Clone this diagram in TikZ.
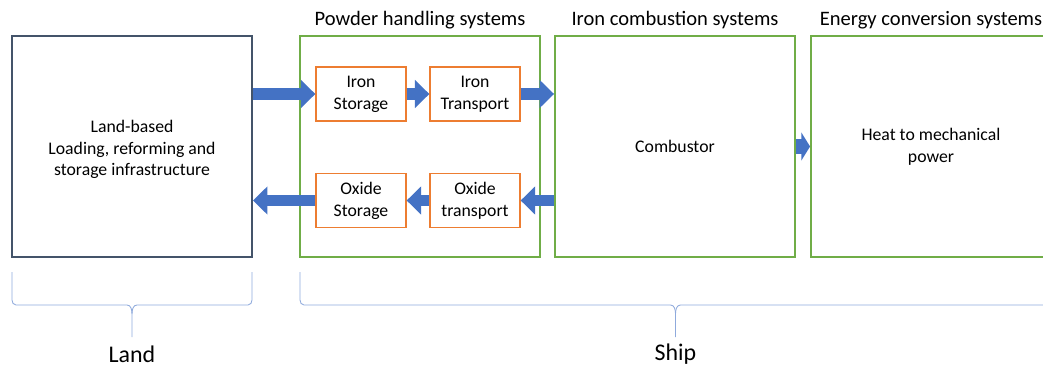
\documentclass[tikz,border=0pt]{standalone}
\usepackage{fontspec}
\setmainfont{Carlito}
\usetikzlibrary{arrows.meta,calc}
\definecolor{slate}{HTML}{44546A}
\definecolor{sysgreen}{HTML}{70AD47}
\definecolor{boxorange}{HTML}{ED7D31}
\definecolor{flowblue}{HTML}{4472C4}
\definecolor{bracecol}{HTML}{8FAADC}
\tikzset{
	sysbox/.style={draw=sysgreen, line width=1.3pt, minimum width=6cm, minimum height=5.525cm, align=center, font=\fontsize{12.6}{15.5}\selectfont},
	landbox/.style={sysbox, draw=slate},
	boxtext/.style={align=center, font=\fontsize{12.6}{15.5}\selectfont},
	unitbox/.style={draw=boxorange, line width=0.9pt, minimum width=2.25cm, minimum height=1.35cm, align=center, font=\fontsize{12.6}{15.5}\selectfont},
	systitle/.style={anchor=south, inner sep=0pt, font=\fontsize{14.6}{16}\selectfont},
	sidelabel/.style={inner sep=0pt, font=\fontsize{17}{20}\selectfont},
	flow/.style={draw=flowblue, line width=0.28cm, -{Triangle[length=0.36cm,width=0.68cm]}},
	shortflow/.style={flow, line width=0.36cm, -{Triangle[length=0.22cm,width=0.7cm]}},
	brace/.style={draw=bracecol, line width=0.6pt}
}
\def\sidebrace(#1:#2){\pgfmathsetmacro\bmid{(#1+#2)/2}
	\draw[brace] (#1,272) -- (#1,300) to[out=-90,in=180] (#1+4,305) -- (\bmid-5,305) to[out=0,in=90] (\bmid,314) -- (\bmid,337);
	\draw[brace] (\bmid,314) to[out=90,in=180] (\bmid+5,305) -- (#2-4,305) to[out=0,in=-90] (#2,300) -- (#2,272);}

\begin{document}
\begin{tikzpicture}[x=0.025cm,y=-0.025cm]
	%%%%% START %%%%%
	\clip (0,0) rectangle (1043,367);
	\def\ytop{146.5}
	\def\yup{94}
	\def\ylow{200.5}
	
	\node[landbox] (land) at (132,\ytop) {};
	\node[boxtext] (landtxt) at ($(land)+(0,3)$) {Land-based\\Loading, reforming and\\storage infrastructure};
	\node[sysbox] (powder) at (420,\ytop) {};
	\node[sysbox] (combustor) at (675,\ytop) {Combustor};
	\node[sysbox] (energy) at (931,\ytop) {Heat to mechanical\\power};
	
	\node[systitle] at ($(powder.north)+(0,-6)$) {Powder handling systems};
	\node[systitle] at ($(combustor.north)+(0,-6)$) {Iron combustion systems};
	\node[systitle] at ($(energy.north)+(0,-6)$) {Energy conversion systems};
	
	\node[unitbox] (istore) at (361,\yup) {Iron\\Storage};
	\node[unitbox] (itrans) at (475,\yup) {Iron\\Transport};
	\node[unitbox] (ostore) at (361,\ylow) {Oxide\\Storage};
	\node[unitbox] (otrans) at (475,\ylow) {Oxide\\transport};
	
	\draw[flow] (land.east |- istore.west) -- (istore.west);
	\draw[flow] (istore) -- (itrans);
	\draw[flow] (itrans.east) -- (combustor.west |- itrans.east);
	\draw[shortflow] (combustor) -- (energy);
	\draw[flow] (combustor.west |- otrans.east) -- (otrans.east);
	\draw[flow] (otrans) -- (ostore);
	\draw[flow] (ostore.west) -- (land.east |- ostore.west);
	
	\sidebrace(12:252)
	\sidebrace(300:1051)
	\node[sidelabel] (landlbl) at (132,354) {Land};
	\node[sidelabel] (shiplbl) at (675.5,354) {Ship};
	%%%%% END %%%%%
\end{tikzpicture}
\end{document}
